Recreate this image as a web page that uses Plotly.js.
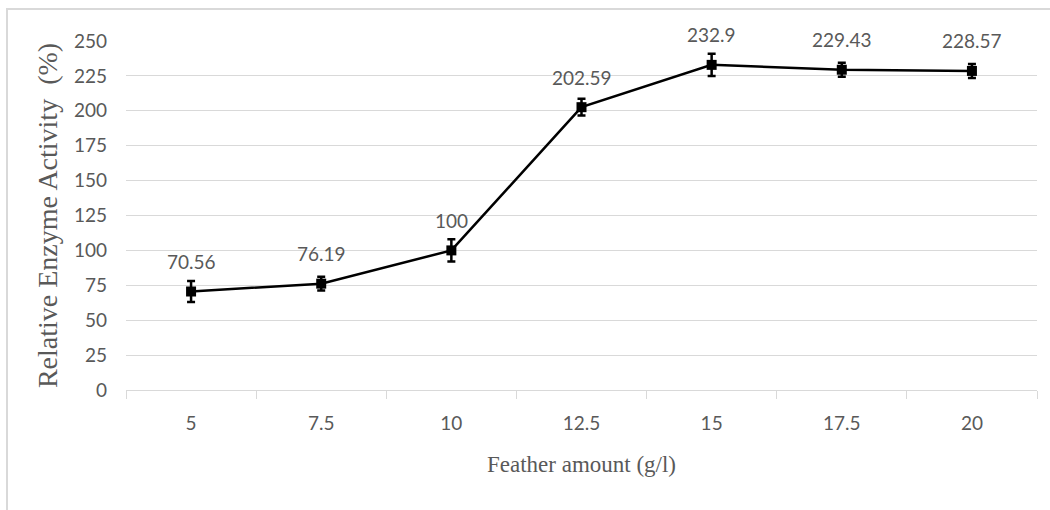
<!DOCTYPE html>
<html>
<head>
<meta charset="utf-8">
<script src="https://cdn.plot.ly/plotly-3.0.1.min.js"></script>
<style>
  html, body { margin: 0; padding: 0; background: #ffffff; }
  #frame {
    position: absolute; left: 6px; top: 8px; width: 1044px; height: 502px;
    border-left: 2px solid #d9d9d9; border-top: 2px solid #d9d9d9;
  }
  #chart { position: absolute; left: 0; top: 0; width: 1050px; height: 510px; }
</style>
</head>
<body>
<div id="frame"></div>
<div id="chart"></div>
<script>
// Feather amount (g/l) vs relative enzyme activity (%)
const featherAmount = ["5", "7.5", "10", "12.5", "15", "17.5", "20"];
const relativeActivity = [70.56, 76.19, 100, 202.59, 232.9, 229.43, 228.57];
const activityError = [7.5, 5, 8, 6, 8, 5, 5];
const activityLabels = ["70.56", "76.19", "100", "202.59", "232.9", "229.43", "228.57"];
const yTicks = [0, 25, 50, 75, 100, 125, 150, 175, 200, 225, 250];

const labelFont = { family: "Lato, 'Open Sans', sans-serif", size: 19, color: "#595959" };
const xTitleFont = { family: "'Liberation Serif', 'DejaVu Serif', serif", size: 23, color: "#595959" };
const yTitleFont = { family: "'Liberation Serif', 'DejaVu Serif', serif", size: 28, color: "#595959" };

const trace = {
  x: featherAmount,
  y: relativeActivity,
  type: "scatter",
  mode: "lines+markers",
  line: { color: "#000000", width: 2.5 },
  marker: { symbol: "square", size: 10, color: "#000000" },
  error_y: { type: "data", array: activityError, visible: true, color: "#000000", thickness: 2.5, width: 4 },
  hoverinfo: "skip"
};

// value labels placed above each point (category index on x)
const annotations = featherAmount.map((x, i) => ({
  x: i, y: relativeActivity[i], xref: "x", yref: "y",
  text: activityLabels[i], showarrow: false, yshift: 30,
  font: labelFont
}));

const layout = {
  width: 1050, height: 510,
  margin: { l: 126, r: 13, t: 41, b: 120 },
  paper_bgcolor: "rgba(0,0,0,0)",
  plot_bgcolor: "#ffffff",
  showlegend: false,
  xaxis: {
    type: "category",
    range: [-0.5, featherAmount.length - 0.5],
    tickson: "boundaries",
    ticks: "outside", ticklen: 8, tickcolor: "#d9d9d9", tickwidth: 1,
    showline: true, linecolor: "#d9d9d9", linewidth: 1,
    showgrid: false, zeroline: false,
    tickangle: 0,
    tickfont: labelFont, ticklabelstandoff: 16,
    title: { text: "Feather amount (g/l)", font: xTitleFont, standoff: 23 },
    fixedrange: true
  },
  yaxis: {
    range: [0, 250],
    tickvals: yTicks, ticktext: yTicks.map(String),
    showgrid: true, gridcolor: "#d9d9d9", gridwidth: 1,
    zeroline: false, showline: false, ticks: "",
    tickfont: labelFont, ticklabelstandoff: 18,
    title: { text: "Relative Enzyme Activity  (%)", font: yTitleFont, standoff: 8 },
    fixedrange: true
  },
  annotations: annotations
};

Plotly.newPlot("chart", [trace], layout, { displayModeBar: false, staticPlot: true });
</script>
</body>
</html>
